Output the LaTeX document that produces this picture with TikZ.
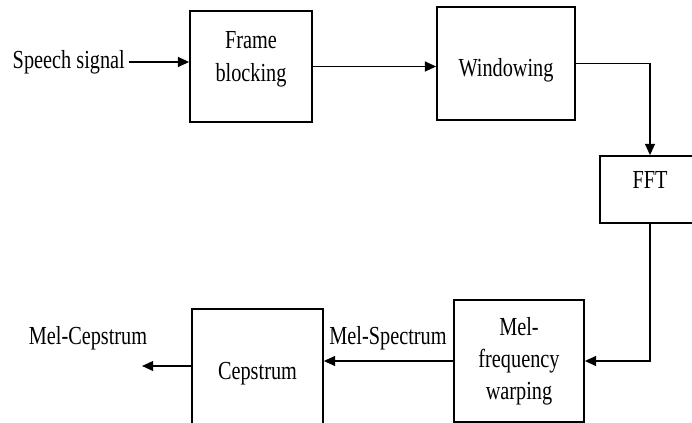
\documentclass[tikz,border=0pt]{standalone}
\usepackage{fontspec}
\setmainfont{Liberation Serif}[FakeStretch=0.78]
\usepackage{tikz}
\usetikzlibrary{arrows.meta,positioning}
\tikzset{
  box/.style={draw,line width=1.2pt,align=center,inner sep=0pt,
              font=\fontsize{18.5}{22.8}\selectfont},
  lbl/.style={align=center,inner sep=3pt,
              font=\fontsize{18.5}{22.8}\selectfont},
  arr/.style={-{Triangle[length=8pt,width=7pt]},line width=1.2pt},
}

\begin{document}
\begin{tikzpicture}
\useasboundingbox (0,0) rectangle (17.3,-10.575);

%% ---------- top row ----------
\node[lbl] (speech) at (1.72,-1.55) {Speech signal};

\node[box,minimum width=3.05cm,minimum height=2.775cm,text depth=0.5cm]
  (frame) at (6.275,-1.6625) {Frame\\blocking};
\node[box,minimum width=3.45cm,minimum height=2.825cm,text height=0.8cm]
  (win) at (12.65,-1.5875) {Windowing};
\node[box,minimum width=2.5cm,minimum height=1.675cm,text depth=0.48cm]
  (fft) at (16.25,-4.7375) {FFT};

%% ---------- bottom row ----------
\node[box,minimum width=3.25cm,minimum height=3.05cm] (mel) at (12.975,-9.025)
  {Mel-\\frequency\\warping};
\node[box,minimum width=3.275cm,minimum height=2.875cm,text height=0.78cm]
  (cep) at (6.4375,-9.1625) {Cepstrum};

\node[lbl] (melspec) at (9.7,-8.45) {Mel-Spectrum};
\node[lbl] (melcep) at (2.2,-8.45) {Mel-Cepstrum};
\coordinate (out) at (3.55,-9.15);

%% flow arrows
\draw[arr] (speech.east) -- (speech.east -| frame.west);
\draw[arr] (frame.east) -- (frame.east -| win.west);
\draw[arr] (win.east) -| (fft.north);
\draw[arr] (fft.south) |- (mel.east);
\draw[arr] (mel.west) -- (mel.west -| cep.east);
\draw[arr] (cep.west |- out) -- (out);
\end{tikzpicture}
\end{document}
